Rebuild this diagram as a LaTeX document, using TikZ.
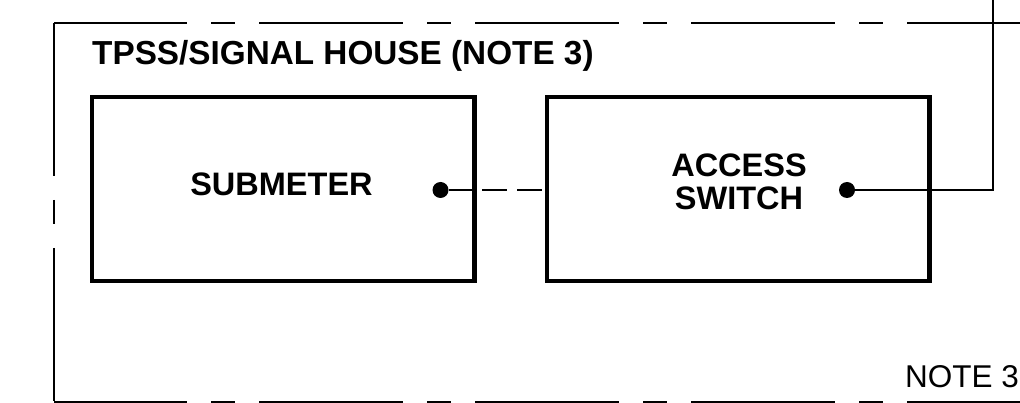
\documentclass[tikz,border=0pt]{standalone}
\usepackage{fontspec}
\setmainfont{Liberation Sans}
\tikzset{
  px/.style={x=1pt, y=-1pt},
  t box/.style={draw, line width=4.8pt, minimum width=382.5pt, minimum height=184pt, inner sep=0pt, outer sep=0pt},
  t dot/.style={circle, fill, minimum size=16pt, inner sep=0pt, outer sep=0pt},
  t label/.style={font=\fontsize{32.5}{33}\selectfont\bfseries, align=center, inner sep=0pt},
  t head/.style={font=\fontsize{33.3}{34}\selectfont\bfseries, inner sep=0pt},
  t note/.style={font=\fontsize{31.5}{33}\selectfont, inner sep=0pt},
  t wire/.style={line width=2pt},
  t edge/.style={line width=1.3pt},
}
\begin{document}
\begin{tikzpicture}[px]
\useasboundingbox (0,0) rectangle (1020,403);
% house boundary
\coordinate (tl) at (54,23); \coordinate (tr) at (1020,23);
\coordinate (bl) at (54,402); \coordinate (br) at (1020,402);
\draw[t edge, dash pattern=on 144pt off 24pt on 24pt off 24pt, dash phase=11pt] (tl) -- (tr);
\draw[t edge, dash pattern=on 144pt off 24pt on 24pt off 24pt, dash phase=11pt] (bl) -- (br);
\draw[t edge, dash pattern=on 153pt off 24pt on 24pt off 24pt] (tl) -- (bl);
\node[t head, anchor=base west] (house) at (92,65) {TPSS/SIGNAL HOUSE (NOTE 3)};
\node[t note, anchor=base east] (note) at (1019,387) {NOTE 3};
% equipment
\node[t box] (sm box) at (283.25,189) {};
\node[t box] (sw box) at (738.25,189) {};
\node[t label, anchor=base] (sm txt) at (281.5,196) {SUBMETER};
\node[t label, anchor=base] (sw txt) at (739,210) {ACCESS\\SWITCH};
\node[t dot] (sm dot) at (440.5,190) {};
\node[t dot] (sw dot) at (847,190) {};
\coordinate (up) at (993,0);
\draw[t wire] (sm dot) -- (sm dot -| sm box.east);
\draw[t wire, dash pattern=on 25pt off 10pt, dash phase=27.5pt] (sm dot -| sm box.east) -- (sm dot -| sw box.west);
\draw[t wire] (sw dot) -| (up);
\end{tikzpicture}
\end{document}
